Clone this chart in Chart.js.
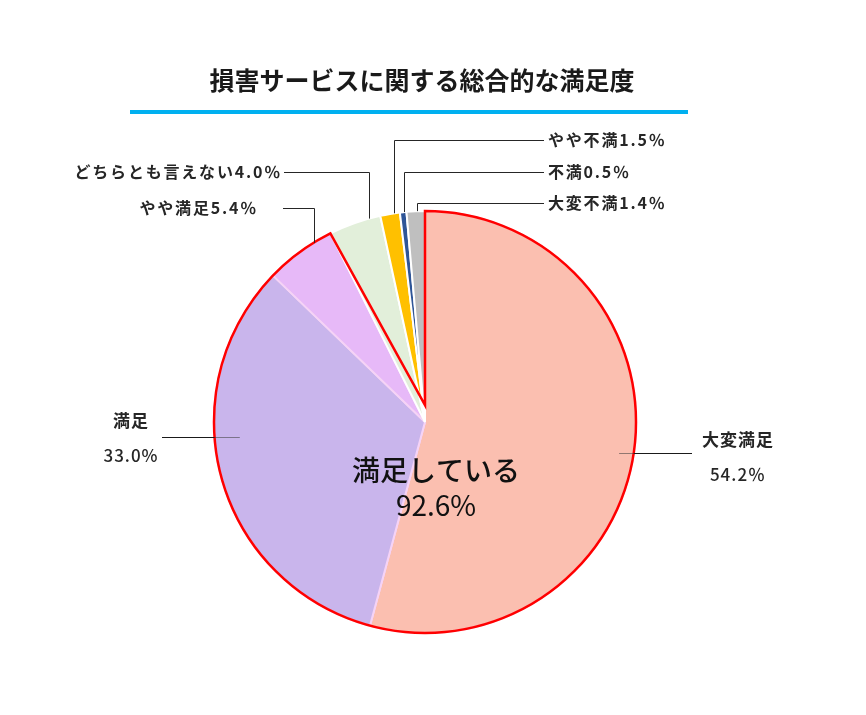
<!DOCTYPE html>
<html lang="ja">
<head>
<meta charset="utf-8">
<title>損害サービスに関する総合的な満足度</title>
<script src="https://cdn.jsdelivr.net/npm/chart.js@4.4.1/dist/chart.umd.min.js"></script>
<style>
  html, body { margin: 0; padding: 0; background: #ffffff; }
  #wrap { width: 866px; height: 715px; }
</style>
</head>
<body>
<div id="wrap"><canvas id="satisfaction" width="866" height="715"></canvas></div>
<script>
// data
const categories = ['大変満足', '満足', 'やや満足', 'どちらとも言えない', 'やや不満', '不満', '大変不満'];
const shares = [54.2, 33.0, 5.4, 4.0, 1.5, 0.5, 1.4];
const sliceColors = ['#FBBFB0', '#C9B5EC', '#E7B9F8', '#E2EFDA', '#FFC000', '#2F5597', '#BFBFBF'];
const satisfiedCount = 3; // 大変満足 + 満足 + やや満足
const titleText = '損害サービスに関する総合的な満足度';
const centerLabel = '満足している';

const FONT = '"Noto Sans CJK JP", "Noto Sans", sans-serif';

// label placement (per slice, same order as categories)
// kind 'top': text on one side, leader goes horizontal then down to the rim
// kind 'side': two-line text, leader goes horizontally into the pie
const labelLayout = [
  { kind: 'side', x: 738, y: 440, lineY: 453, lineEnd: 692, inner: 0.93, pct: '％' },
  { kind: 'side', x: 131, y: 421, lineY: 437, lineEnd: 162, inner: 0.88, pct: '%' },
  { kind: 'top', align: 'right', x: 258, y: 208, gap: 25, frac: 0.73 },
  { kind: 'top', align: 'right', x: 282, y: 172, gap: 2, frac: 0.78 },
  { kind: 'top', align: 'left', x: 548, y: 140, gap: 4, frac: 0.70 },
  { kind: 'top', align: 'left', x: 548, y: 172, gap: 4, frac: 0.60 },
  { kind: 'top', align: 'left', x: 548, y: 203, gap: 4, frac: 0.57 }
];

const sum = (arr) => arr.reduce((a, b) => a + b, 0);

const decorations = {
  id: 'decorations',
  afterDatasetsDraw(chart) {
    const ctx = chart.ctx;
    const arcs = chart.getDatasetMeta(0).data;
    const first = arcs[0];
    const last = arcs[satisfiedCount - 1];
    const cx = first.x, cy = first.y, r = first.outerRadius;

    // red outline around the satisfied group
    const apexY = cy - r * 0.08;
    ctx.save();
    ctx.strokeStyle = '#FF0000';
    ctx.lineWidth = 2.5;
    ctx.lineJoin = 'miter';
    ctx.beginPath();
    ctx.moveTo(cx, apexY);
    ctx.lineTo(cx + r * Math.cos(first.startAngle), cy + r * Math.sin(first.startAngle));
    ctx.arc(cx, cy, r, first.startAngle, last.endAngle);
    ctx.closePath();
    ctx.stroke();
    ctx.restore();
  },
  afterDraw(chart) {
    const ctx = chart.ctx;
    const arcs = chart.getDatasetMeta(0).data;
    const cx = arcs[0].x, cy = arcs[0].y, r = arcs[0].outerRadius;

    ctx.save();
    // title + blue rule
    ctx.fillStyle = '#1a1a1a';
    ctx.font = 'bold 25px ' + FONT;
    ctx.textAlign = 'center';
    ctx.textBaseline = 'middle';
    ctx.fillText(titleText, 422, 80);
    ctx.fillStyle = '#00B0F0';
    ctx.fillRect(130, 110, 558, 4);

    // leader lines and labels
    labelLayout.forEach((lay, i) => {
      const arc = arcs[i];
      const value = shares[i].toFixed(1);
      ctx.lineWidth = 1;
      if (lay.kind === 'top') {
        const ang = arc.startAngle + (arc.endAngle - arc.startAngle) * lay.frac;
        const ax = cx + r * Math.cos(ang);
        const ay = cy + r * Math.sin(ang);
        const lineStart = lay.align === 'left' ? lay.x - lay.gap : lay.x + lay.gap;
        ctx.strokeStyle = '#262626';
        ctx.beginPath();
        ctx.moveTo(lineStart, lay.y + 0.5);
        ctx.lineTo(Math.round(ax) + 0.5, lay.y + 0.5);
        ctx.lineTo(Math.round(ax) + 0.5, ay);
        ctx.stroke();

        ctx.fillStyle = '#262626';
        ctx.font = 'bold 16px ' + FONT;
        ctx.letterSpacing = '1.8px';
        ctx.textAlign = lay.align;
        ctx.textBaseline = 'middle';
        ctx.fillText(categories[i] + value + '％', lay.x, lay.y);
      } else {
        const dy = lay.lineY - cy;
        const edge = Math.sqrt(r * r - dy * dy);
        const dir = lay.x > cx ? 1 : -1;
        const innerX = cx + dir * edge * lay.inner;
        const rimX = cx + dir * edge;
        ctx.strokeStyle = 'rgba(60,60,60,0.55)';
        ctx.beginPath();
        ctx.moveTo(innerX, lay.lineY + 0.5);
        ctx.lineTo(rimX, lay.lineY + 0.5);
        ctx.stroke();
        ctx.strokeStyle = '#1a1a1a';
        ctx.beginPath();
        ctx.moveTo(rimX, lay.lineY + 0.5);
        ctx.lineTo(lay.lineEnd, lay.lineY + 0.5);
        ctx.stroke();

        ctx.fillStyle = '#262626';
        ctx.textAlign = 'center';
        ctx.textBaseline = 'middle';
        ctx.letterSpacing = '1px';
        ctx.font = 'bold 17px ' + FONT;
        ctx.fillText(categories[i], lay.x, lay.y);
        ctx.font = '500 17px ' + FONT;
        ctx.fillText(value + lay.pct, lay.x, lay.y + 35);
      }
    });

    // centre caption
    const satisfiedTotal = sum(shares.slice(0, satisfiedCount)).toFixed(1);
    ctx.letterSpacing = '0px';
    ctx.fillStyle = '#111111';
    ctx.textAlign = 'center';
    ctx.textBaseline = 'middle';
    ctx.font = '500 28px ' + FONT;
    ctx.fillText(centerLabel, 436, 470);
    ctx.font = '28px ' + FONT;
    ctx.fillText(satisfiedTotal + '%', 436, 505);
    ctx.restore();
  }
};

const borderColors = shares.map((v, i) => (i < satisfiedCount ? '#F5D3F6' : '#FFFFFF'));

new Chart(document.getElementById('satisfaction'), {
  type: 'pie',
  data: {
    labels: categories,
    datasets: [{
      data: shares,
      backgroundColor: sliceColors,
      borderColor: borderColors,
      borderWidth: 2
    }]
  },
  options: {
    responsive: false,
    animation: false,
    radius: 211,
    layout: { padding: { top: 211, bottom: 82, left: 200, right: 216 } },
    plugins: {
      legend: { display: false },
      tooltip: { enabled: false },
      title: { display: false }
    }
  },
  plugins: [decorations]
});
</script>
</body>
</html>
